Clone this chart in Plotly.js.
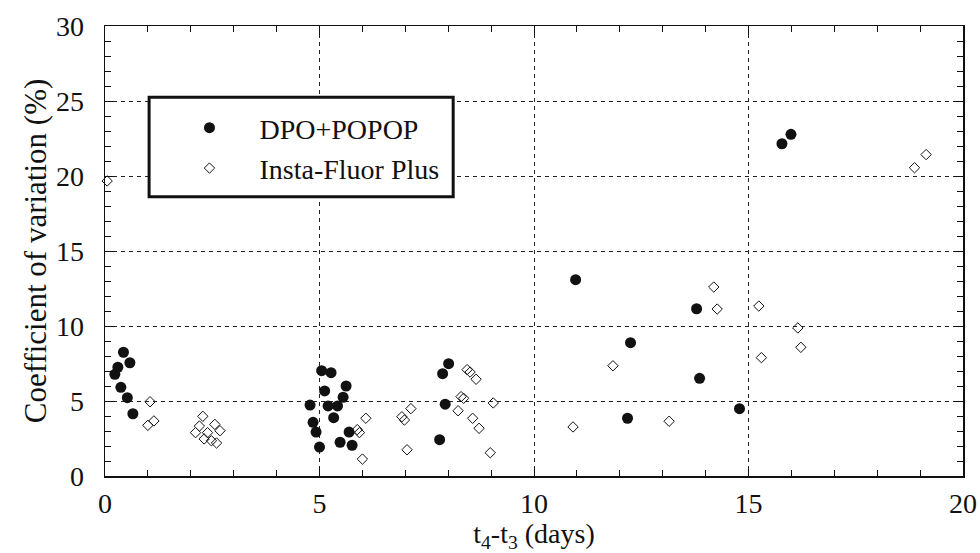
<!DOCTYPE html>
<html>
<head>
<meta charset="utf-8">
<script src="https://cdn.plot.ly/plotly-3.0.1.min.js"></script>
<style>html,body{margin:0;padding:0;background:#fff;}#chart{width:980px;height:553px;}</style>
</head>
<body>
<div id="chart"></div>
<script>
// DPO+POPOP (filled circles)
const dpoX = [0.23,0.30,0.43,0.58,0.37,0.52,0.65,
  5.05,5.27,5.62,5.12,5.55,4.78,5.20,5.42,5.33,4.85,4.92,5.69,5.48,5.76,5.00,
  8.01,7.87,7.93,7.80,
  10.97,13.79,12.25,13.86,14.79,12.18,
  15.99,15.78];
const dpoY = [6.78,7.25,8.25,7.55,5.91,5.22,4.15,
  7.02,6.89,6.00,5.67,5.25,4.73,4.67,4.67,3.89,3.58,2.93,2.93,2.25,2.05,1.93,
  7.49,6.82,4.79,2.42,
  13.09,11.15,8.89,6.51,4.49,3.85,
  22.78,22.15];
// Insta-Fluor Plus (open diamonds)
const insX = [0.05,
  1.05,1.00,1.14,
  2.28,2.20,2.11,2.39,2.56,2.68,2.31,2.48,2.60,
  6.08,5.88,5.93,6.00,
  6.92,6.98,7.13,7.04,
  8.44,8.51,8.65,8.30,8.36,8.23,8.57,8.72,9.05,8.98,
  14.19,14.27,15.24,15.30,11.84,13.15,10.91,
  16.15,16.22,
  19.14,18.87];
const insY = [19.67,
  4.95,3.38,3.67,
  3.98,3.33,2.89,2.89,3.44,3.02,2.47,2.35,2.20,
  3.85,3.09,2.89,1.13,
  3.95,3.73,4.49,1.75,
  7.09,6.93,6.45,5.29,5.18,4.35,3.85,3.18,4.87,1.55,
  12.6,11.13,11.33,7.89,7.35,3.65,3.27,
  9.87,8.58,
  21.43,20.55];
const seriesNames = ["DPO+POPOP", "Insta-Fluor Plus"];
const xTitle = "t<sub>4</sub>-t<sub>3</sub> (days)";
const yTitle = "Coefficient of variation (%)";

const FONT = "'Liberation Serif', 'Times New Roman', serif";

const traces = [
  {x: dpoX, y: dpoY, type: "scatter", mode: "markers", name: seriesNames[0],
   legendgroup: "a", cliponaxis: false,
   marker: {symbol: "circle", size: 11, color: "#111"}},
  {x: insX, y: insY, type: "scatter", mode: "markers", name: seriesNames[1],
   legendgroup: "b", cliponaxis: false,
   marker: {symbol: "diamond-open", size: 8, color: "#111", line: {width: 1, color: "#111"}}}
];

const axisCommon = {
  showline: true, linecolor: "#111", linewidth: 1.5, mirror: "allticks",
  ticks: "inside", ticklen: 9, tickwidth: 1, tickcolor: "#111",
  showgrid: true, gridcolor: "#222", gridwidth: 1, griddash: "4px,4px",
  zeroline: false, dtick: 5, tick0: 0,
  minor: {dtick: 1, ticks: "inside", ticklen: 6, tickcolor: "#111", tickwidth: 1, showgrid: false},
  tickfont: {family: FONT, size: 28, color: "#111"},
  fixedrange: true
};

const layout = {
  width: 980, height: 553,
  margin: {l: 105, r: 17, t: 26, b: 77},
  paper_bgcolor: "#fff", plot_bgcolor: "#fff",
  font: {family: FONT, color: "#111"},
  xaxis: Object.assign({}, axisCommon, {
    range: [0, 20], ticklabelstandoff: 2,
    title: {text: xTitle, font: {family: FONT, size: 28, color: "#111"}, standoff: 0}
  }),
  yaxis: Object.assign({}, axisCommon, {
    range: [0, 30], ticklabelstandoff: 14,
    title: {text: yTitle, font: {family: FONT, size: 31, color: "#111"}, standoff: 0}
  }),
  showlegend: true,
  legend: {
    x: 0.0635, y: 0.829, xanchor: "left", yanchor: "top",
    bgcolor: "rgba(0,0,0,0)", borderwidth: 0,
    font: {family: FONT, size: 28, color: "#111"},
    itemwidth: 90, traceorder: "grouped", tracegroupgap: 1
  },
  shapes: [
    {type: "rect", xref: "paper", yref: "paper", x0: 0.0514, x1: 0.4058, y0: 0.6207, y1: 0.8416,
     line: {color: "#111", width: 3}, fillcolor: "#fff", layer: "above"}
  ]
};

Plotly.newPlot("chart", traces, layout, {displayModeBar: false, staticPlot: true});
</script>
</body>
</html>
